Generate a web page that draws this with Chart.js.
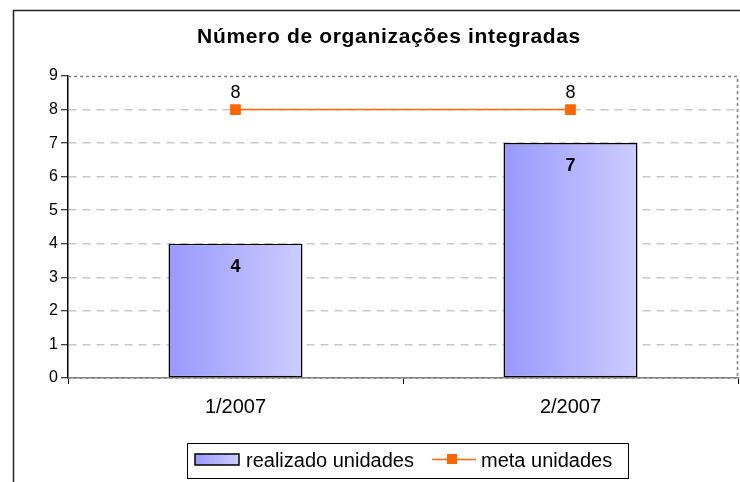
<!DOCTYPE html>
<html>
<head>
<meta charset="utf-8">
<script src="https://cdn.jsdelivr.net/npm/chart.js@4/dist/chart.umd.min.js"></script>
<style>
  html, body { margin: 0; padding: 0; background: #fff; }
  canvas { display: block; }
</style>
</head>
<body>
<canvas id="grafico" width="740" height="482"></canvas>
<script>
// dados do gráfico
const titulo = 'Número de organizações integradas';
const periodos = ['1/2007', '2/2007'];
const realizado = [4, 7];
const meta = [8, 8];
const yTicks = [0, 1, 2, 3, 4, 5, 6, 7, 8, 9];

const FONTE = "'Liberation Sans', Arial, sans-serif";

// degradê horizontal de cada barra
const barGradient = (context) => {
    const {ctx, chartArea, scales} = context.chart;
    if (!chartArea || context.dataIndex === undefined) return '#aaaaff';
    const x = scales.x.getPixelForValue(context.dataIndex);
    const half = (chartArea.right - chartArea.left) / periodos.length * 0.4 / 2;
    const g = ctx.createLinearGradient(x - half, 0, x + half, 0);
    g.addColorStop(0, '#9999ff');
    g.addColorStop(1, '#ccccff');
    return g;
};

const moldura = {
    id: 'moldura',
    beforeDraw(chart) {
        const ctx = chart.ctx;
        ctx.save();
        ctx.fillStyle = '#fff';
        ctx.fillRect(0, 0, chart.width, chart.height);
        ctx.strokeStyle = '#222';
        ctx.lineWidth = 1.5;
        ctx.strokeRect(13.5, 10.5, 800, 600);
        ctx.restore();
    },
    afterDatasetsDraw(chart) {
        const ctx = chart.ctx;
        const a = chart.chartArea;
        ctx.save();
        // borda pontilhada da área de plotagem
        ctx.strokeStyle = '#808080';
        ctx.lineWidth = 1.5;
        ctx.setLineDash([3, 3]);
        ctx.beginPath();
        ctx.moveTo(a.left, a.top + 0.5);
        ctx.lineTo(a.right - 0.5, a.top + 0.5);
        ctx.lineTo(a.right - 0.5, a.bottom);
        ctx.lineTo(a.left, a.bottom);
        ctx.stroke();
        ctx.setLineDash([]);
        // rótulos de dados
        ctx.fillStyle = '#000';
        ctx.textAlign = 'center';
        ctx.textBaseline = 'middle';
        chart.getDatasetMeta(0).data.forEach((el, i) => {
            ctx.font = 'bold 18px ' + FONTE;
            ctx.fillText(String(realizado[i]), el.x, el.y + 23);
        });
        chart.getDatasetMeta(1).data.forEach((el, i) => {
            ctx.font = '18px ' + FONTE;
            ctx.fillText(String(meta[i]), el.x, el.y - 17);
        });
        ctx.restore();
    },
    afterDraw(chart) {
        const ctx = chart.ctx;
        ctx.save();
        // título
        ctx.fillStyle = '#000';
        ctx.font = 'bold 21px ' + FONTE;
        const w = ctx.measureText(titulo).width;
        ctx.letterSpacing = Math.max(0, (384 - w) / titulo.length).toFixed(2) + 'px';
        ctx.textAlign = 'center';
        ctx.textBaseline = 'middle';
        ctx.fillText(titulo, 389, 37);
        ctx.letterSpacing = '0px';
        // legenda
        ctx.strokeStyle = '#000';
        ctx.lineWidth = 1;
        ctx.strokeRect(187.5, 443.5, 441, 35);
        const g = ctx.createLinearGradient(195, 0, 239, 0);
        g.addColorStop(0, '#9999ff');
        g.addColorStop(1, '#ccccff');
        ctx.fillStyle = g;
        ctx.fillRect(195, 454, 44, 11);
        ctx.lineWidth = 1.5;
        ctx.strokeRect(195, 454, 44, 11);
        ctx.fillStyle = '#000';
        ctx.font = '20px ' + FONTE;
        ctx.textAlign = 'left';
        ctx.fillText(chart.data.datasets[0].label, 246, 461);
        ctx.strokeStyle = '#ff6600';
        ctx.lineWidth = 1.5;
        ctx.beginPath();
        ctx.moveTo(432, 459.5);
        ctx.lineTo(476, 459.5);
        ctx.stroke();
        ctx.fillStyle = '#ff6600';
        ctx.fillRect(447, 454, 10, 10);
        ctx.fillStyle = '#000';
        ctx.fillText(chart.data.datasets[1].label, 481, 461);
        ctx.restore();
    }
};

const ctx = document.querySelector('#grafico').getContext('2d');
const myChart = new Chart(ctx, {
    type: 'bar',
    data: {
        labels: periodos,
        datasets: [{
            label: 'realizado unidades',
            data: realizado,
            backgroundColor: barGradient,
            borderColor: '#000',
            borderWidth: 1.5,
            borderSkipped: false,
            barPercentage: 0.4,
            categoryPercentage: 1,
            order: 1
        }, {
            label: 'meta unidades',
            data: meta,
            type: 'line',
            borderColor: '#ff6600',
            backgroundColor: '#ff6600',
            borderWidth: 1.5,
            pointStyle: 'rect',
            pointRadius: 6.5,
            pointHoverRadius: 6.5,
            order: 0
        }]
    },
    options: {
        responsive: false,
        animation: false,
        events: [],
        layout: {
            autoPadding: false,
            padding: {top: 76, left: 0, right: 2, bottom: 60}
        },
        plugins: {
            legend: {display: false},
            title: {display: false},
            tooltip: {enabled: false}
        },
        scales: {
            x: {
                afterFit: (scale) => {
                    scale.height = 44;
                    scale.paddingLeft = 0;
                    scale.paddingRight = 0;
                },
                grid: {
                    offset: true,
                    drawOnChartArea: false,
                    tickLength: 6,
                    tickColor: '#000'
                },
                border: {color: '#808080', width: 1.5},
                ticks: {
                    color: '#000',
                    font: {family: FONTE, size: 20},
                    padding: 11
                }
            },
            y: {
                min: 0,
                max: 9,
                afterBuildTicks: (scale) => { scale.ticks = yTicks.map(v => ({value: v})); },
                afterFit: (scale) => { scale.width = 68; },
                grid: {
                    color: (c) => (c.tick && (c.tick.value === 0 || c.tick.value === 9)) ? 'rgba(0,0,0,0)' : '#c8c8c8',
                    lineWidth: 1.5,
                    tickLength: 7,
                    tickColor: '#000',
                    tickWidth: 1
                },
                border: {color: '#000', width: 1.5, dash: [8, 6]},
                ticks: {
                    color: '#000',
                    font: {family: FONTE, size: 16},
                    padding: 3
                }
            }
        }
    },
    plugins: [moldura]
});
</script>
</body>
</html>
